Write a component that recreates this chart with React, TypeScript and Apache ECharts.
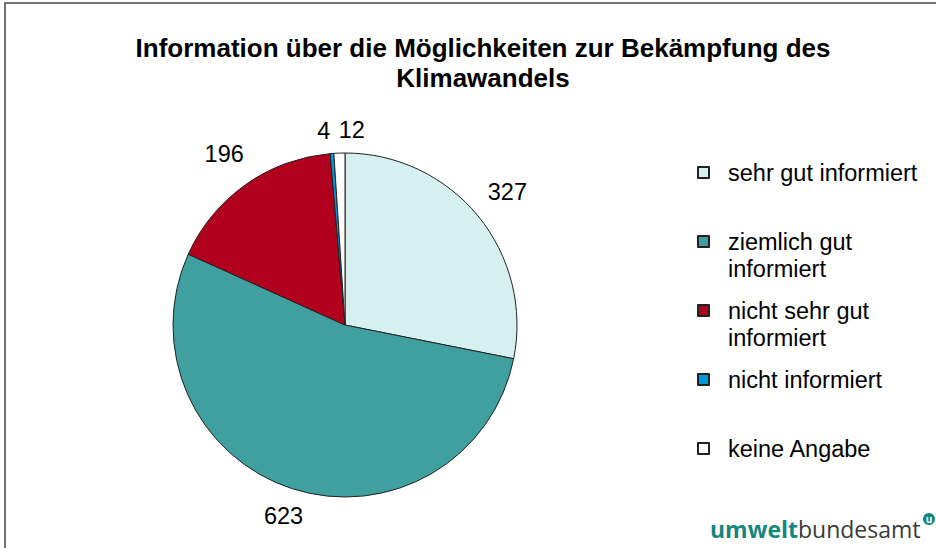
import React, { useEffect, useRef } from "react";
import * as echarts from "echarts";

const categories = [
  "sehr gut informiert",
  "ziemlich gut informiert",
  "nicht sehr gut informiert",
  "nicht informiert",
  "keine Angabe",
];
const legendLines = [
  ["sehr gut informiert"],
  ["ziemlich gut", "informiert"],
  ["nicht sehr gut", "informiert"],
  ["nicht informiert"],
  ["keine Angabe"],
];
const values = [327, 623, 196, 4, 12];
const colors = ["#d6f0f0", "#40a0a0", "#b0001e", "#0098d8", "#ffffff"];
const labelDistances = [38, 29, 37, 23, 23];
const titleText = "Information über die Möglichkeiten zur Bekämpfung des\nKlimawandels";

const FONT = "'Liberation Sans', Arial, sans-serif";

export default function App() {
  const ref = useRef<HTMLDivElement>(null);
  useEffect(() => {
    if (!ref.current) return;
    const chart = echarts.init(ref.current, null, { renderer: "svg" });
    const data = categories.map((name, i) => ({
      name,
      value: values[i],
      itemStyle: { color: colors[i] },
      labelLine: { show: false, length: labelDistances[i], length2: 0 },
    }));
    const legendData = categories.map((name, i) => ({
      name,
      icon: "rect",
      textStyle: {
        padding: legendLines[i].length > 1 ? [27, 0, 0, 14] : [27, 0, 27, 14],
      },
    }));
    chart.setOption({
      animation: false,
      backgroundColor: "#ffffff",
      textStyle: { fontFamily: FONT },
      title: {
        text: titleText,
        left: 478,
        top: 28,
        textAlign: "center",
        textStyle: {
          fontFamily: FONT,
          fontSize: 26,
          fontWeight: "bold",
          lineHeight: 30,
          color: "#000",
        },
      },
      legend: {
        orient: "vertical",
        left: 697,
        top: 132,
        padding: 0,
        itemGap: -12,
        itemWidth: 11,
        itemHeight: 11,
        selectedMode: false,
        data: legendData,
        formatter: (name: string) =>
          legendLines[categories.indexOf(name)].map((l) => `{t|${l}}`).join("\n"),
        textStyle: {
          fontFamily: FONT,
          fontSize: 23.5,
          color: "#000",
          backgroundColor: "transparent",
          rich: {
            t: { fontFamily: FONT, fontSize: 23.5, lineHeight: 27, color: "#000" },
          },
        },
      },
      graphic: [
        {
          type: "rect",
          shape: { x: 5, y: 3, width: 1000, height: 1000 },
          style: { fill: "none", stroke: "#444", lineWidth: 1.5 },
          silent: true,
        },
        {
          type: "text",
          x: 710,
          y: 529,
          style: {
            text: "{a|umwelt}{b|bundesamt}",
            verticalAlign: "middle",
            rich: {
              a: { fontFamily: "'Open Sans', sans-serif", fontWeight: "bold", fontSize: 23, fill: "#16867f" },
              b: { fontFamily: "'Open Sans', sans-serif", fontSize: 23, fill: "#3a3a3a" },
            },
          },
        },
        {
          type: "circle",
          shape: { cx: 929, cy: 519, r: 6 },
          style: { fill: "#16867f" },
        },
        {
          type: "text",
          x: 929,
          y: 519,
          style: {
            text: "u",
            fontFamily: "'Open Sans', sans-serif",
            fontWeight: "bold",
            fontSize: 10,
            fill: "#fff",
            align: "center",
            verticalAlign: "middle",
          },
        },
      ],
      series: [
        {
          type: "pie",
          center: [345, 325],
          radius: 172,
          startAngle: 90,
          clockwise: true,
          avoidLabelOverlap: false,
          data,
          itemStyle: { borderColor: "#222", borderWidth: 1 },
          emphasis: { disabled: true },
          label: {
            show: true,
            position: "outside",
            formatter: "{c}",
            fontFamily: FONT,
            fontSize: 23.5,
            color: "#000",
            distanceToLabelLine: 0,
          },
          labelLayout: (p: any) => ({
            align: p.dataIndex === 3 ? "right" : p.dataIndex === 4 ? "left" : "center",
          }),
        },
      ],
    });
    return () => chart.dispose();
  }, []);
  return (
    <div
      ref={ref}
      style={{ position: "fixed", left: 0, top: 0, width: 936, height: 548 }}
    />
  );
}
